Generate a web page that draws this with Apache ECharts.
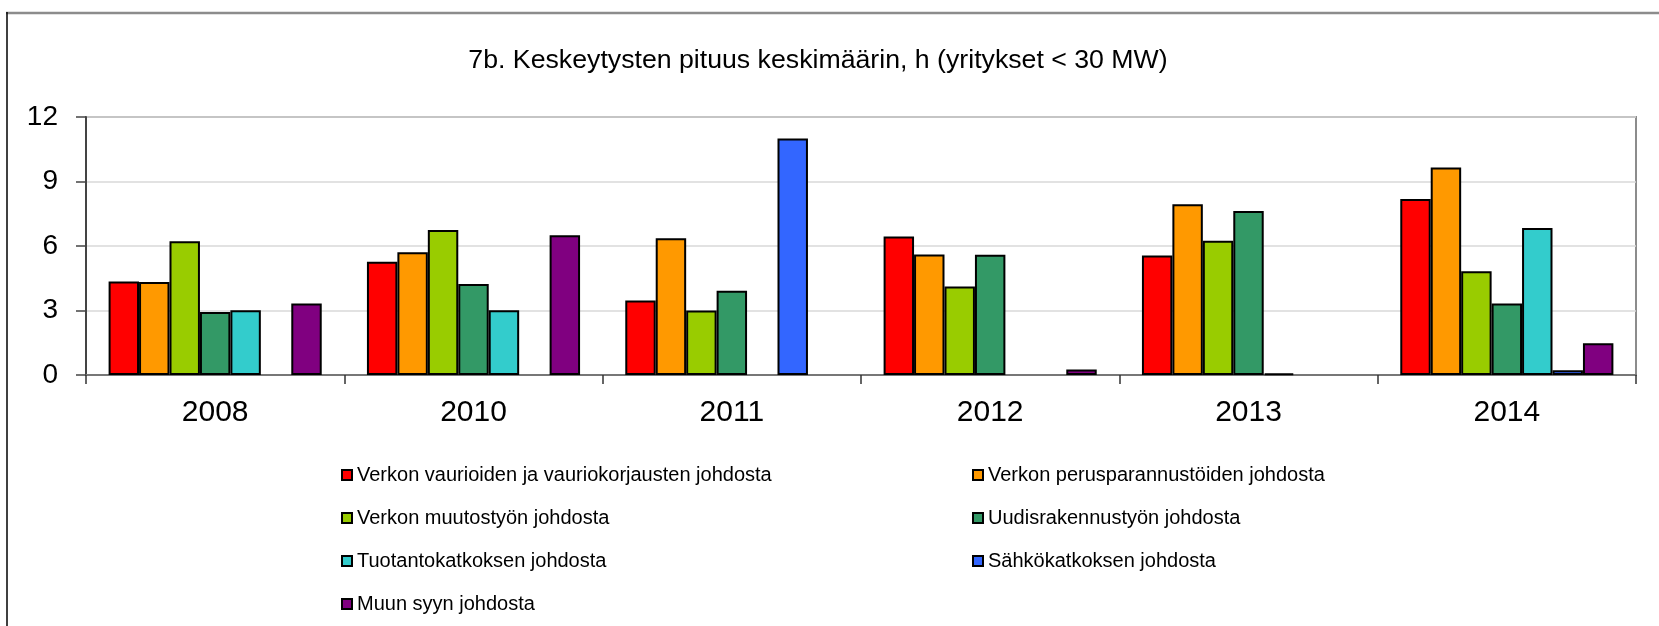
<!DOCTYPE html>
<html>
<head>
<meta charset="utf-8">
<script src="https://cdn.jsdelivr.net/npm/echarts@6/dist/echarts.min.js"></script>
<style>
html,body{margin:0;padding:0;background:#fff;}
#chart{width:1659px;height:626px;}
</style>
</head>
<body>
<div id="chart"></div>
<script>
const titleText = '7b. Keskeytysten pituus keskimäärin, h (yritykset < 30 MW)';
const categories = ['2008', '2010', '2011', '2012', '2013', '2014'];
const seriesNames = [
  'Verkon vaurioiden ja vauriokorjausten johdosta',
  'Verkon perusparannustöiden johdosta',
  'Verkon muutostyön johdosta',
  'Uudisrakennustyön johdosta',
  'Tuotantokatkoksen johdosta',
  'Sähkökatkoksen johdosta',
  'Muun syyn johdosta'
];
const vaurio      = [4.35, 5.27, 3.47, 6.44, 5.56, 8.19];
const perusparann = [4.32, 5.71, 6.36, 5.61, 7.94, 9.65];
const muutostyo   = [6.22, 6.75, 3.00, 4.12, 6.24, 4.82];
const uudisrak    = [2.93, 4.23, 3.92, 5.59, 7.63, 3.32];
const tuotanto    = [3.01, 3.01, null, null, 0.08, 6.84];
const sahkokatkos = [null, null, 11.0, null, null, 0.22];
const muu         = [3.32, 6.50, null, 0.26, null, 1.48];
const yTicks = [0, 3, 6, 9, 12];

const seriesData = [vaurio, perusparann, muutostyo, uudisrak, tuotanto, sahkokatkos, muu];
const colors = ['#FF0000', '#FF9900', '#99CC00', '#339966', '#33CCCC', '#3366FF', '#800080'];
const FONT = '"Liberation Sans", Arial, sans-serif';

const chart = echarts.init(document.getElementById('chart'), null, {renderer: 'canvas'});

const legendCommon = {
  orient: 'vertical',
  icon: 'rect',
  itemWidth: 10,
  itemHeight: 10,
  itemGap: 23,
  padding: 0,
  textStyle: {fontFamily: FONT, fontSize: 20, color: '#000', lineHeight: 20},
  selectedMode: false
};

const option = {
  backgroundColor: '#fff',
  animation: false,
  color: colors,
  title: {
    text: titleText,
    left: 813,
    textAlign: 'center',
    top: 41,
    textStyle: {fontFamily: FONT, fontSize: 26.7, fontWeight: 'normal', color: '#000', lineHeight: 30}
  },
  grid: {
    left: 86, right: 23, top: 117, bottom: 251,
    show: true, borderColor: '#8c8c8c', borderWidth: 2, backgroundColor: '#fff',
    containLabel: false
  },
  legend: [
    Object.assign({left: 341, top: 465, data: [seriesNames[0], seriesNames[2], seriesNames[4], seriesNames[6]]}, legendCommon),
    Object.assign({left: 972, top: 465, data: [seriesNames[1], seriesNames[3], seriesNames[5]]}, legendCommon)
  ],
  xAxis: {
    type: 'category',
    data: categories,
    axisLine: {show: true, lineStyle: {color: '#777', width: 2}},
    axisTick: {show: true, length: 9, inside: false, lineStyle: {color: '#333', width: 1.5}},
    axisLabel: {fontFamily: FONT, fontSize: 30, color: '#000', margin: 23},
    splitLine: {show: false}
  },
  yAxis: {
    type: 'value',
    min: yTicks[0],
    max: yTicks[yTicks.length - 1],
    interval: 3,
    axisLine: {show: true, lineStyle: {color: '#444', width: 2}},
    axisTick: {show: true, length: 10, lineStyle: {color: '#444', width: 1.5}},
    axisLabel: {fontFamily: FONT, fontSize: 28, color: '#000', margin: 28},
    splitLine: {show: true, lineStyle: {color: '#d9d9d9', width: 1.5}}
  },
  series: seriesNames.map((name, i) => ({
    name: name,
    type: 'bar',
    data: seriesData[i],
    barGap: '0%',
    barCategoryGap: '17.5%',
    itemStyle: {color: colors[i], borderColor: '#000', borderWidth: 2}
  })),
  graphic: [
    {type: 'line', silent: true, shape: {x1: 6, y1: 13, x2: 1659, y2: 13}, style: {stroke: '#8c8c8c', lineWidth: 2.5}},
    {type: 'line', silent: true, shape: {x1: 7, y1: 12, x2: 7, y2: 626}, style: {stroke: '#000', lineWidth: 1.5}}
  ]
};

chart.setOption(option);
</script>
</body>
</html>
